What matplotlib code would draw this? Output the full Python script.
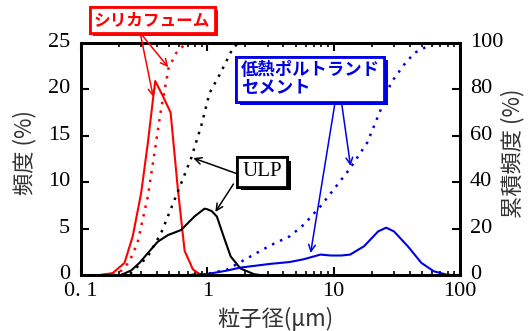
import numpy as np
import matplotlib
matplotlib.use("Agg")
from matplotlib import pyplot as plt
import matplotlib.patheffects as pe
import matplotlib.transforms as mtransforms

# particle size (um) / frequency (%)
sf_x = [0.12, 0.14, 0.178, 0.221, 0.257, 0.299, 0.338, 0.371, 0.387, 0.444, 0.512, 0.585, 0.661, 0.769, 0.87, 1.0]
sf_y = [0.0, 0.0, 0.2, 1.3, 4.2, 8.8, 14.2, 18.9, 20.9, 19.3, 17.5, 9.2, 2.6, 0.6, 0.1, 0.0]
sf_cx = [0.15, 0.2, 0.24, 0.28, 0.338, 0.38, 0.43, 0.494, 0.567, 0.66, 0.75, 20.0]
sf_cy = [0.0, 0.9, 5.5, 13.8, 33.9, 52.0, 71.3, 89.2, 95.7, 99.3, 100.0, 100.0]

ulp_x = [0.2, 0.208, 0.25, 0.29, 0.35, 0.406, 0.488, 0.62, 0.79, 0.95, 0.99, 1.08, 1.19, 1.35, 1.53, 1.83, 2.33, 2.6]
ulp_y = [0.0, 0.0, 0.5, 1.3, 2.6, 3.6, 4.3, 4.85, 6.3, 7.15, 7.1, 6.9, 6.3, 4.1, 2.0, 0.7, 0.1, 0.0]
ulp_cx = [0.208, 0.249, 0.338, 0.43, 0.585, 0.745, 0.9, 1.04, 1.27, 1.52, 1.61, 1.8, 20.0]
ulp_cy = [0.0, 0.9, 8.0, 18.0, 36.0, 50.4, 64.8, 78.4, 87.0, 95.6, 98.3, 100.0, 100.0]

lpc_x = [0.71, 0.99, 1.4, 1.83, 2.4, 3.16, 4.5, 5.8, 7.86, 9.5, 11.5, 13.5, 17.4, 22.5, 26.0, 30.0, 38.6, 49.5, 62.0, 79.0, 88.0]
lpc_y = [0.0, 0.1, 0.45, 0.8, 1.0, 1.2, 1.4, 1.7, 2.2, 2.1, 2.1, 2.2, 3.1, 4.7, 5.1, 4.7, 3.1, 1.3, 0.4, 0.03, 0.0]
lpc_cx = [0.75, 1.0, 1.43, 2.18, 3.16, 4.5, 5.8, 7.86, 10.7, 13.5, 18.4, 23.6, 28.4, 36.0, 43.5, 58.5, 70.0, 100.0]
lpc_cy = [0.0, 0.5, 2.3, 7.9, 12.8, 16.7, 21.7, 29.6, 38.9, 46.0, 57.0, 71.3, 82.8, 90.6, 95.7, 99.3, 100.0, 100.0]

xticks = [0.1, 1, 10, 100]
xtick_labels = ["0. 1", "1", "10", "100"]

RED = "#ff0000"
BLUE = "#0000e6"
SERIF = "Liberation Serif"
JP = ["Noto Sans CJK JP", "DejaVu Sans"]

fig = plt.figure(figsize=(5.30, 3.31), dpi=100)
ax = fig.add_axes([81 / 530, 56 / 331, 379 / 530, 232 / 331])
ax2 = ax.twinx()

dot = (0, (1, 2.5))
ax.plot(sf_x, sf_y, color=RED, lw=1.5)
ax.plot(ulp_x, ulp_y, color="black", lw=1.5)
ax.plot(lpc_x, lpc_y, color=BLUE, lw=1.5)
ax2.plot(sf_cx, sf_cy, color=RED, lw=1.8, ls=dot)
ax2.plot(ulp_cx, ulp_cy, color="black", lw=1.8, ls=dot)
ax2.plot(lpc_cx, lpc_cy, color=BLUE, lw=1.8, ls=dot)

ax.set_xscale("log")
ax.set_xlim(0.1, 100)
ax.set_ylim(0, 25)
ax2.set_ylim(0, 100)
ax.set_xticks(xticks)
ax.set_xticklabels(xtick_labels)
ax.set_yticks([0, 5, 10, 15, 20, 25])
ax2.set_yticks([0, 20, 40, 60, 80, 100])

for a in (ax, ax2):
    for s in a.spines.values():
        s.set_linewidth(2)
ax.tick_params(which="major", direction="in", length=6, width=1.5, top=True,
               labelsize=16, pad=8)
ax.tick_params(axis="x", pad=5)
ax.tick_params(which="minor", direction="in", length=3, width=1.2, top=True)
ax2.tick_params(direction="in", length=6, width=1.5, labelsize=16, pad=7)

# y tick labels sit a little above their ticks in the reference
up = mtransforms.ScaledTranslation(0, 3 / 100, fig.dpi_scale_trans)
for lab in ax.get_yticklabels() + ax2.get_yticklabels():
    lab.set_transform(lab.get_transform() + up)
for lab in ax.get_xticklabels() + ax.get_yticklabels() + ax2.get_yticklabels():
    lab.set_fontfamily(SERIF)

fig.text(25 / 530, 1 - 153 / 331, "頻度 (%)", rotation=90, ha="center", va="center",
         fontsize=16, family=JP, color="#333333")
fig.text(513 / 530, 1 - 153 / 331, "累積頻度 (%)", rotation=90, ha="center", va="center",
         fontsize=16, family=JP, color="#333333")
fig.text(275 / 530, 1 - 319 / 331, "粒子径(μm)", ha="center", va="center",
         fontsize=16, family=JP, color="#333333")

# labels with arrows (left axis data coordinates)
def label(x, y, txt, color, ha, **kw):
    t = ax2.text(x, y, txt, transform=ax.transData, ha=ha, va="center", color=color,
                 zorder=5, bbox=dict(boxstyle="square,pad=0.25", fc="white", ec=color, lw=2),
                 **kw)
    t.get_bbox_patch().set_path_effects([pe.withSimplePatchShadow(
        offset=(2.5, -2.5), shadow_rgbFace=color, alpha=1), pe.Normal()])
    return t

def arrow(src, dst, color):
    ax2.annotate("", xy=dst, xytext=src, xycoords=ax.transData, textcoords=ax.transData,
                 arrowprops=dict(arrowstyle="->", color=color, lw=1.1,
                                 shrinkA=0, shrinkB=0, mutation_scale=12),
                 annotation_clip=False, zorder=4)

label(0.366, 27.5, "シリカフューム", RED, "center", fontsize=12,
      family=JP, fontweight="bold")
arrow((0.294, 26.1), (0.373, 19.2), RED)
arrow((0.294, 26.1), (0.49, 22.4), RED)

label(1.84, 21.1, "低熱ポルトランド\nセメント", BLUE, "left", fontsize=12.5,
      family=JP, fontweight="bold", linespacing=1.0)
arrow((10.4, 19.1), (6.57, 2.37), BLUE)
arrow((11.4, 19.1), (13.6, 11.75), BLUE)

label(2.73, 11.1, "ULP", "black", "center", fontsize=15, family=SERIF)
arrow((1.73, 10.9), (0.774, 12.6), "black")
arrow((1.61, 9.8), (1.157, 6.8), "black")

fig.savefig("out.png", dpi=100)
